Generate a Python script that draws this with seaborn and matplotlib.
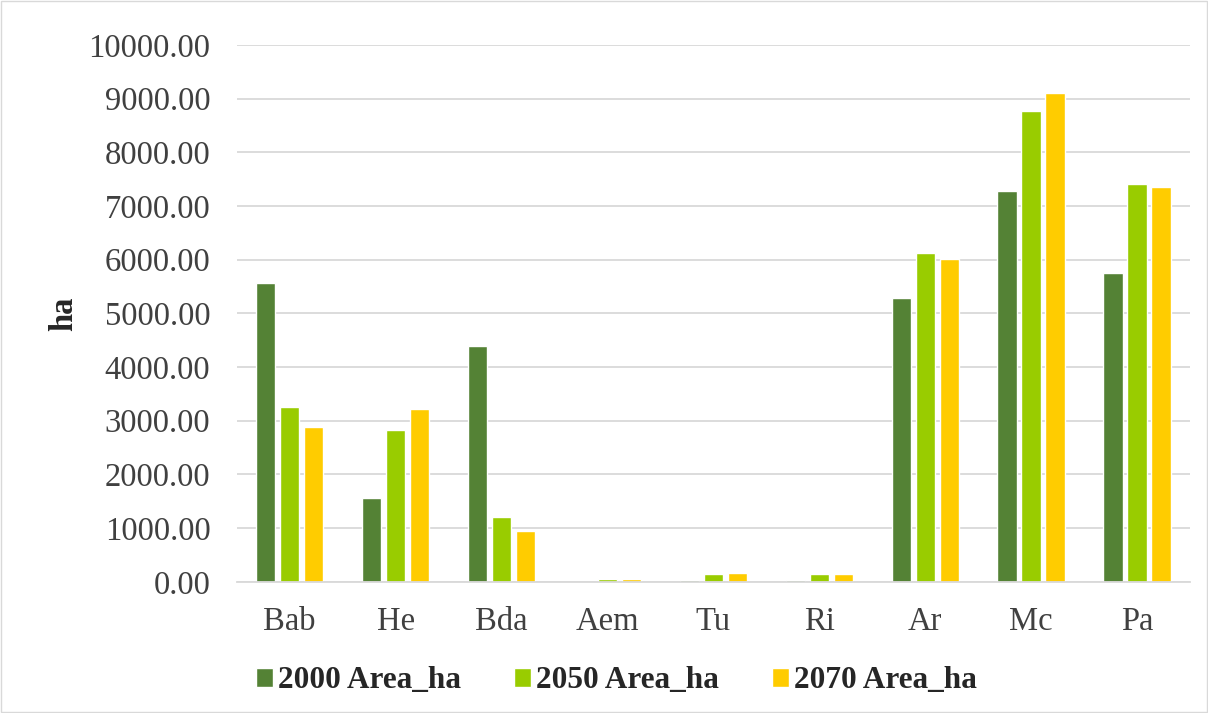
import numpy as np
import pandas as pd
import matplotlib
matplotlib.use("Agg")
import matplotlib.pyplot as plt
import seaborn as sns
from matplotlib.ticker import FormatStrFormatter

categories = ["Bab", "He", "Bda", "Aem", "Tu", "Ri", "Ar", "Mc", "Pa"]
area_2000 = [5560, 1560, 4400, 5, 30, 35, 5280, 7270, 5760]
area_2050 = [3260, 2820, 1200, 45, 150, 145, 6120, 8760, 7410]
area_2070 = [2890, 3210, 950, 45, 170, 150, 6010, 9110, 7360]
series = ["2000 Area_ha", "2050 Area_ha", "2070 Area_ha"]
colors = ["#548235", "#99CC00", "#FFCC00"]

df = pd.DataFrame({"cat": categories, series[0]: area_2000,
                   series[1]: area_2050, series[2]: area_2070})
df = df.melt(id_vars="cat", var_name="serie", value_name="area")

sns.set_style("white")
plt.rcParams["font.family"] = ["Liberation Serif", "DejaVu Serif"]

fig = plt.figure(figsize=(12.08, 7.13), dpi=100)
ax = fig.add_axes([0.196, 0.184, 0.789, 0.753])

sns.barplot(data=df, x="cat", y="area", hue="serie", palette=colors,
            width=0.68, gap=0.2, ax=ax, saturation=1, legend=True)

ax.set_ylim(0, 10000)
ax.set_yticks(np.arange(0, 10001, 1000))
ax.yaxis.set_major_formatter(FormatStrFormatter("%.2f"))
ax.grid(axis="y", color="#D9D9D9", linewidth=1.3)
ax.set_axisbelow(True)
for s in ["top", "right", "left"]:
    ax.spines[s].set_visible(False)
ax.spines["bottom"].set_color("#D9D9D9")
ax.spines["bottom"].set_linewidth(1.3)
ax.tick_params(axis="both", length=0, labelsize=23.5, colors="#404040")
ax.tick_params(axis="y", pad=19)
ax.tick_params(axis="x", pad=18)
ax.set_xlabel("")
ax.set_ylabel("ha", fontsize=23.5, fontweight="bold")
ax.yaxis.set_label_coords(-0.165, 0.5)

handles, labels = ax.get_legend_handles_labels()
ax.legend_.remove()
fig.legend(handles, labels, loc="center", bbox_to_anchor=(0.51, 0.045), ncol=3,
           frameon=False, prop={"size": 22.5, "weight": "bold"},
           handlelength=0.55, handleheight=0.55, handletextpad=0.15, columnspacing=1.7)

fig.patches.append(plt.Rectangle((0.001, 0.001), 0.998, 0.998, transform=fig.transFigure,
                                 fill=False, edgecolor="#D9D9D9", linewidth=1))
fig.savefig("out.png", dpi=100)
